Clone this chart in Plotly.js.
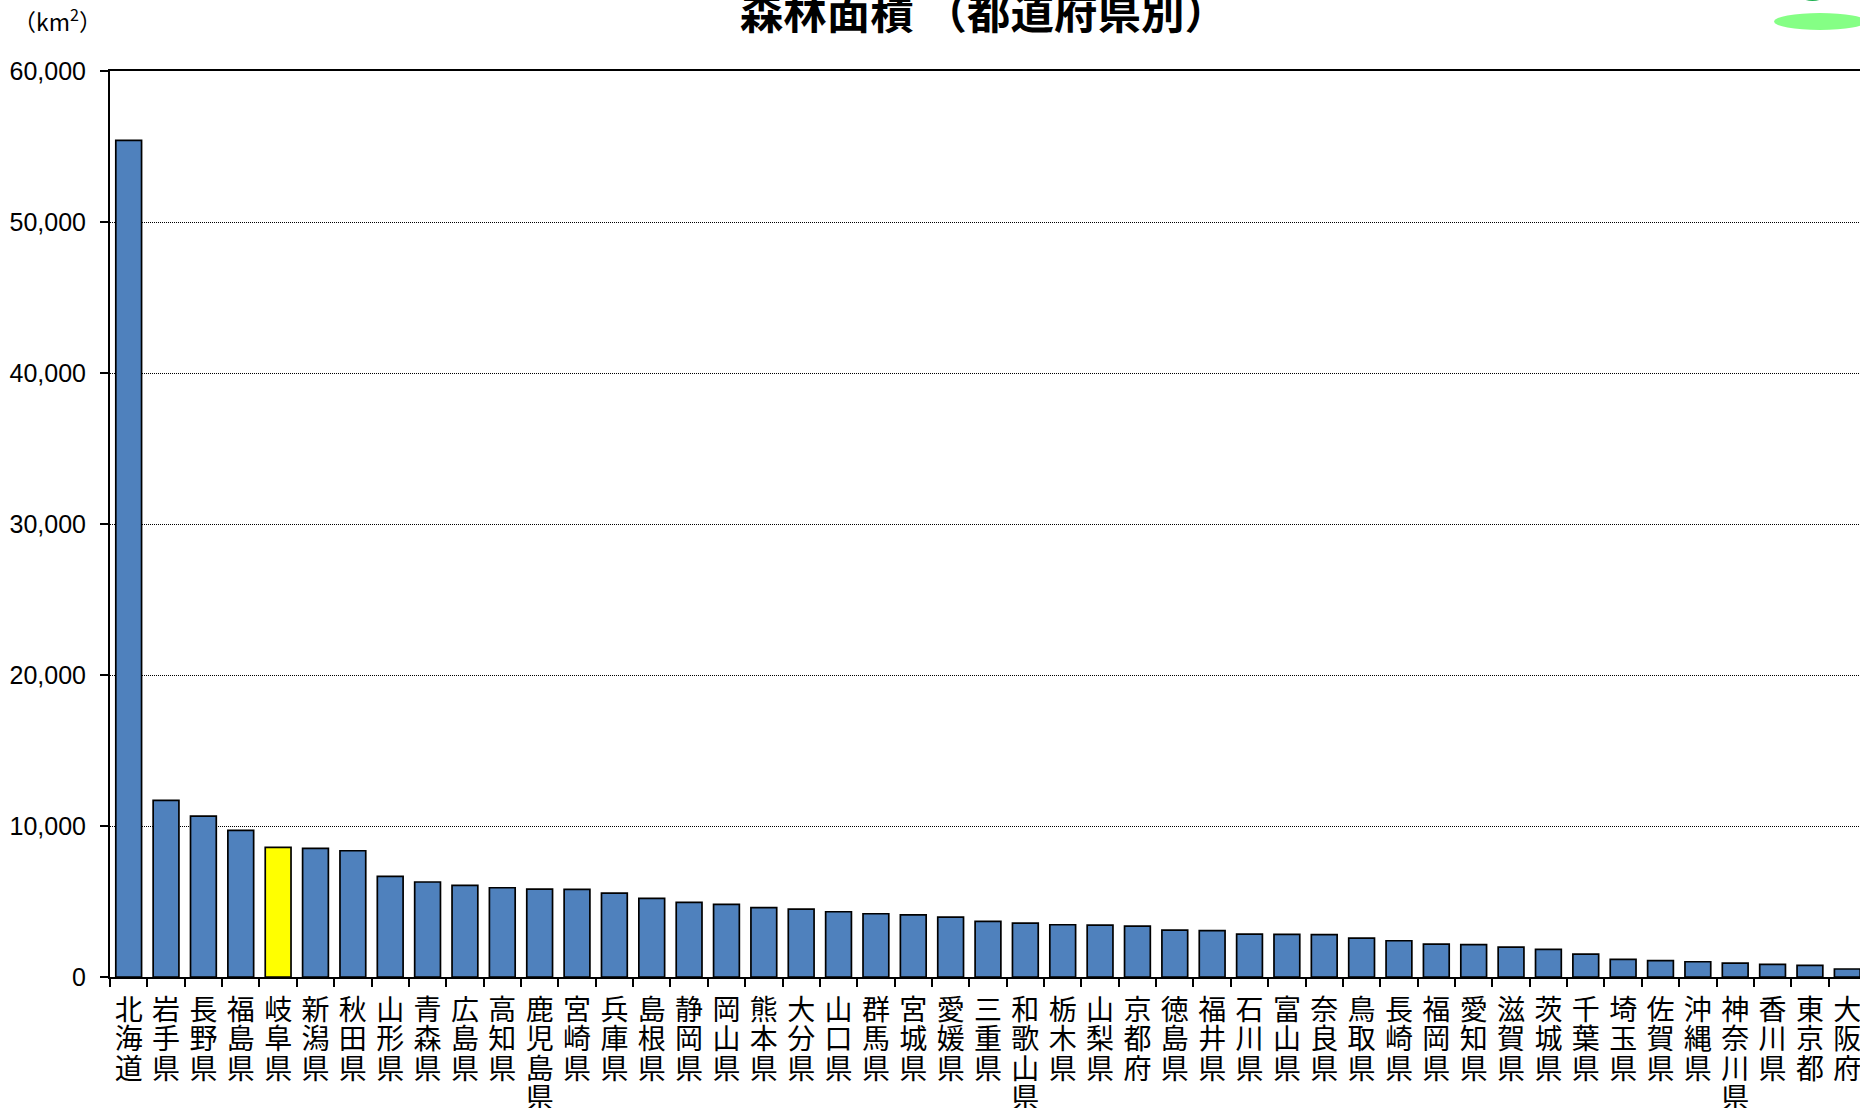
<!DOCTYPE html>
<html>
<head>
<meta charset="utf-8">
<script src="https://cdn.plot.ly/plotly-3.0.1.min.js"></script>
<style>
  html, body { margin: 0; padding: 0; background: #fff; overflow: hidden; }
</style>
</head>
<body>
<div id="chart" style="width:1860px;height:1108px;"></div>
<script>
// forest area by prefecture, sorted as in the picture (km2)
var prefectures = ['北海道', '岩手県', '長野県', '福島県', '岐阜県', '新潟県', '秋田県', '山形県', '青森県', '広島県',
  '高知県', '鹿児島県', '宮崎県', '兵庫県', '島根県', '静岡県', '岡山県', '熊本県', '大分県', '山口県',
  '群馬県', '宮城県', '愛媛県', '三重県', '和歌山県', '栃木県', '山梨県', '京都府', '徳島県', '福井県',
  '石川県', '富山県', '奈良県', '鳥取県', '長崎県', '福岡県', '愛知県', '滋賀県', '茨城県', '千葉県',
  '埼玉県', '佐賀県', '沖縄県', '神奈川県', '香川県', '東京都', '大阪府'];
var forestArea = [55400, 11700, 10660, 9710, 8580, 8520, 8360, 6660, 6290, 6070,
  5910, 5820, 5805, 5560, 5210, 4940, 4810, 4590, 4500, 4320,
  4190, 4120, 3970, 3680, 3570, 3460, 3440, 3370, 3110, 3065,
  2840, 2820, 2800, 2580, 2400, 2180, 2140, 1980, 1830, 1520,
  1170, 1080, 1010, 920, 835, 770, 530];
var highlighted = '岐阜県';
var yTicks = [0, 10000, 20000, 30000, 40000, 50000, 60000];

var jpFont = '"Noto Sans CJK JP", sans-serif';

var barColors = prefectures.map(function (name) {
  return name === highlighted ? '#FFFF00' : '#4F81BD';
});

// vertical labels: one character per line
var verticalNames = prefectures.map(function (name) {
  return name.split('').join('<br>');
});

var trace = {
  type: 'bar',
  x: verticalNames,
  y: forestArea,
  marker: {color: barColors, line: {color: '#000', width: 1.7}}
};

var layout = {
  width: 1860,
  height: 1108,
  margin: {l: 110, r: 0, t: 71, b: 131},
  paper_bgcolor: '#fff',
  plot_bgcolor: '#fff',
  showlegend: false,
  bargap: 0.31,
  title: {
    text: '<b>森林面積 （都道府県別）</b>',
    font: {family: jpFont, size: 43.5, color: '#000'},
    xref: 'container', x: 0.529, xanchor: 'center',
    yref: 'container', y: 0.988, yanchor: 'middle'
  },
  xaxis: {
    type: 'category',
    range: [-0.5, 46.34],
    autorange: false,
    tickson: 'boundaries',
    tickmode: 'linear',
    tick0: 0,
    dtick: 1,
    tickangle: 0,
    ticks: 'outside',
    ticklen: 8,
    tickwidth: 2,
    tickcolor: '#000',
    ticklabelstandoff: 7,
    ticklabeloverflow: 'allow',
    tickfont: {family: jpFont, size: 28, color: '#000'},
    showgrid: false,
    showline: true,
    linecolor: '#000',
    linewidth: 2,
    mirror: true,
    zeroline: false
  },
  yaxis: {
    range: [0, 60000],
    autorange: false,
    tickvals: yTicks,
    tickformat: ',d',
    ticks: 'outside',
    ticklen: 8,
    tickwidth: 2,
    tickcolor: '#000',
    ticklabelstandoff: 9,
    tickfont: {family: '"Liberation Sans", Arial, sans-serif', size: 25, color: '#000'},
    showgrid: true,
    gridcolor: '#000',
    gridwidth: 1,
    griddash: '1px,1px',
    showline: true,
    linecolor: '#000',
    linewidth: 2,
    zeroline: false
  },
  annotations: [{
    x: 0, xref: 'paper', xanchor: 'center', xshift: -53,
    y: 1, yref: 'paper', yanchor: 'middle', yshift: 51,
    text: '（km<sup>2</sup>）', showarrow: false,
    font: {family: jpFont, size: 23, color: '#000'}
  }],
  // bits of the green logo cut off by the top right corner
  shapes: [
    {type: 'circle', xref: 'paper', yref: 'paper', xsizemode: 'pixel', ysizemode: 'pixel',
      xanchor: 1, yanchor: 1, x0: -86, x1: 6, y0: 41, y1: 58,
      fillcolor: '#85FF85', line: {width: 0}, layer: 'above'},
    {type: 'circle', xref: 'paper', yref: 'paper', xsizemode: 'pixel', ysizemode: 'pixel',
      xanchor: 1, yanchor: 1, x0: -57, x1: -38, y0: 70, y1: 77,
      fillcolor: '#1DB050', line: {width: 0}, layer: 'above'}
  ]
};

Plotly.newPlot('chart', [trace], layout, {displayModeBar: false, staticPlot: true}).then(function (gd) {
  // plotly's line spacing is fixed at 1.3em, the reference packs the characters tighter
  gd.querySelectorAll('.xtick text').forEach(function (label) {
    label.querySelectorAll('tspan.line').forEach(function (line, i) {
      line.setAttribute('dy', (i * 1.057) + 'em');
    });
  });
});
</script>
</body>
</html>
